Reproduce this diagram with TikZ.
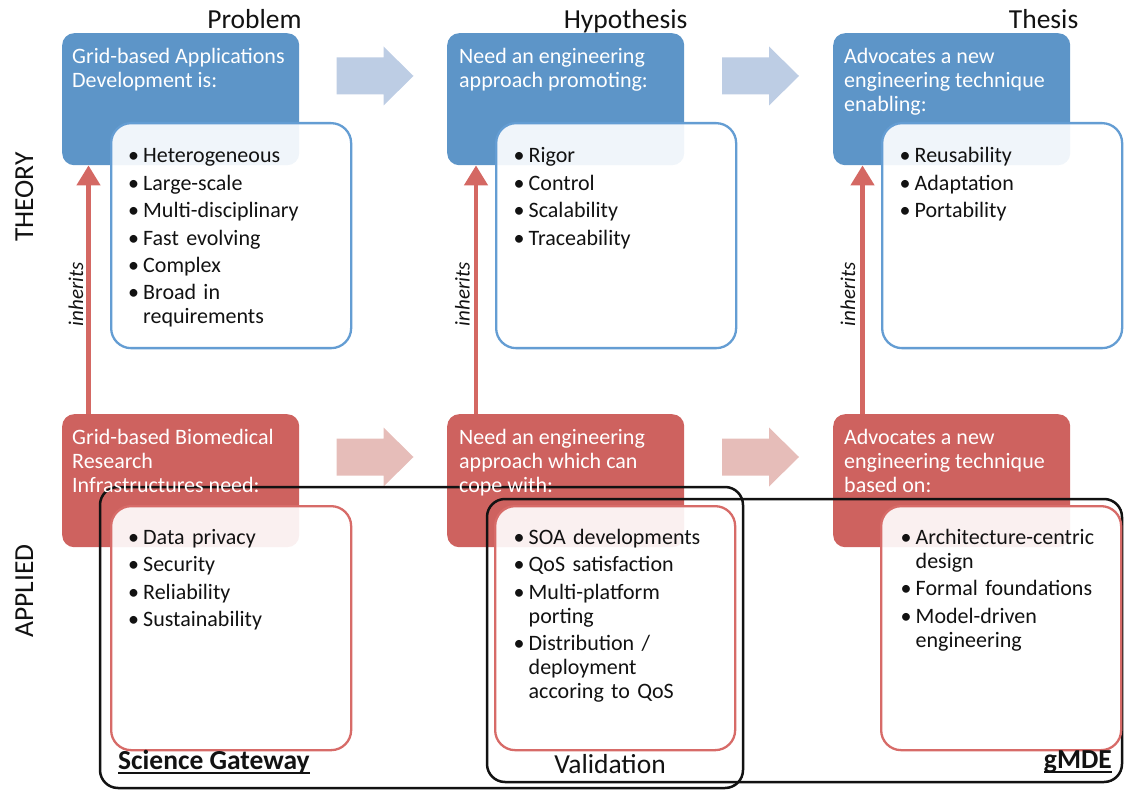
\documentclass[tikz,border=0pt]{standalone}
\usepackage{fontspec}
\setmainfont{Carlito}
\usetikzlibrary{arrows.meta}

\definecolor{boxblue}{RGB}{93,149,200}
\definecolor{boxred}{RGB}{206,98,95}
\definecolor{edgeblue}{RGB}{100,157,211}
\definecolor{edgered}{RGB}{215,107,104}
\definecolor{arrblue}{RGB}{189,205,228}
\definecolor{arrred}{RGB}{230,189,185}
\definecolor{inhred}{RGB}{212,104,99}
\definecolor{ink}{RGB}{18,18,18}

% one bullet entry with a hanging indent
\newcommand{\bitem}[1]{\hangindent=15pt\hangafter=1\noindent\makebox[15pt][l]{\strut•}#1\par}

% wide flat block arrow: #1 colour, #2 left end, #3 centre line
\newcommand{\flowarrow}[3]{%
  \fill[#1] (#2,#3-18.5) -- (#2+47,#3-18.5) -- (#2+47,#3-29.5) -- (#2+77,#3)
    -- (#2+47,#3+29.5) -- (#2+47,#3+18.5) -- (#2,#3+18.5) -- cycle;}

\tikzset{
  mainbox/.style={rounded corners=12pt, minimum width=237pt, minimum height=132pt,
    anchor=north west, inner sep=0, draw=none},
  listbox/.style={rounded corners=20pt, minimum width=240pt, anchor=north west,
    inner sep=0, line width=2.3pt, fill=white, fill opacity=0.91},
  headtxt/.style={anchor=north west, inner sep=0, text=white, align=left,
    font=\fontsize{22}{24}\selectfont},
  listtxt/.style={anchor=north west, inner sep=0, text=ink, text width=228pt,
    font=\fontsize{22}{24}\selectfont,
    execute at begin node={\raggedright\setlength{\parskip}{3.4pt}}},
  coltitle/.style={anchor=base, inner sep=0, text=ink, font=\fontsize{27.5}{30}\selectfont},
  rowtitle/.style={anchor=base, inner sep=0, rotate=90, text=ink,
    font=\fontsize{27.5}{30}\selectfont},
  inhlabel/.style={anchor=base, inner sep=0, rotate=90, text=ink,
    font=\fontsize{21}{24}\selectfont\itshape},
  inharrow/.style={draw=inhred, line width=4.5pt,
    -{Triangle[length=20pt,width=23pt]}},
  groupframe/.style={draw=ink, line width=2.5pt, rounded corners=18pt},
  grouplabel/.style={inner sep=0, text=ink, font=\fontsize{27.5}{30}\selectfont},
}

\begin{document}
\begin{tikzpicture}[x=1pt, y=-1pt]
\useasboundingbox (0,0) rectangle (1124,791);

% column titles
\node[coltitle] (tprob) at (254.5,29) {Problem};
\node[coltitle] (thyp)  at (625.6,29) {Hypothesis};
\node[coltitle] (tthes) at (1043.6,29) {Thesis};

% row titles
\node[rowtitle] (rtheory)  at (33,197) {THEORY};
\node[rowtitle] (rapplied) at (33,591) {APPLIED};

% coloured statement boxes
\node[mainbox, fill=boxblue] (b1) at (62,33) {};
\node[mainbox, fill=boxblue] (b2) at (447,33) {};
\node[mainbox, fill=boxblue] (b3) at (833,33) {};
\node[mainbox, fill=boxred, minimum height=133pt] (r1) at (62,414) {};
\node[mainbox, fill=boxred, minimum height=133pt] (r2) at (447,414) {};
\node[mainbox, fill=boxred, minimum height=133pt] (r3) at (833,414) {};

% flow between columns
\flowarrow{arrblue}{336.5}{76}
\flowarrow{arrblue}{722}{76}
\flowarrow{arrred}{336.5}{457}
\flowarrow{arrred}{722}{457}

% inheritance from applied to theory
\draw[inharrow] (r1.north -| 88.5,0) -- (b1.south -| 88.5,0);
\draw[inharrow] (r2.north -| 476,0) -- (b2.south -| 476,0);
\draw[inharrow] (r3.north -| 862.5,0) -- (b3.south -| 862.5,0);
\node[inhlabel] (i1) at (83,294.5) {inherits};
\node[inhlabel] (i2) at (469.5,294.5) {inherits};
\node[inhlabel] (i3) at (855,294.5) {inherits};

% grouping frames
\draw[groupframe] (100,487) rectangle (743,788);
\draw[groupframe] (487,499) rectangle (1122,782);

% bullet boxes
\node[listbox, draw=edgeblue, minimum height=225pt] (l1) at (110,122) {};
\node[listbox, draw=edgeblue, minimum height=225pt] (l2) at (495,122) {};
\node[listbox, draw=edgeblue, minimum height=225pt] (l3) at (881,122) {};
\node[listbox, draw=edgered, minimum height=244pt] (m1) at (110,505) {};
\node[listbox, draw=edgered, minimum height=244pt] (m2) at (494,505) {};
\node[listbox, draw=edgered, minimum height=244pt] (m3) at (880,505) {};

% statements
\node[headtxt] (h1) at (72,46.7) {\strut Grid-based Applications\\Development is:};
\node[headtxt] (h2) at (459,46.7) {\strut Need an engineering\\approach promoting:};
\node[headtxt] (h3) at (844,46.7) {\strut Advocates a new\\engineering technique\\enabling:};
\node[headtxt] (g1) at (72,427.2) {\strut Grid-based Biomedical\\Research\\Infrastructures need:};
\node[headtxt] (g2) at (459,427.2) {\strut Need an engineering\\approach which can\\cope with:};
\node[headtxt] (g3) at (844,427.2) {\strut Advocates a new\\engineering technique\\based on:};

% bullet lists
\node[listtxt] (p1) at (128,146) {\bitem{Heterogeneous}\bitem{Large-scale}%
  \bitem{Multi-disciplinary}\bitem{Fast evolving}\bitem{Complex}%
  \bitem{Broad in\newline requirements}};
\node[listtxt] (p2) at (513.5,146) {\bitem{Rigor}\bitem{Control}%
  \bitem{Scalability}\bitem{Traceability}};
\node[listtxt] (p3) at (899.5,146) {\bitem{Reusability}\bitem{Adaptation}%
  \bitem{Portability}};
\node[listtxt] (q1) at (128,527.5) {\bitem{Data privacy}\bitem{Security}%
  \bitem{Reliability}\bitem{Sustainability}};
\node[listtxt] (q2) at (513.5,527.5) {\bitem{SOA developments}\bitem{QoS satisfaction}%
  \bitem{Multi-platform\newline porting}%
  \bitem{Distribution /\newline deployment\newline accoring to QoS}};
\node[listtxt] (q3) at (900.5,527.5) {\bitem{Architecture-centric\newline design}%
  \bitem{Formal foundations}\bitem{Model-driven\newline engineering}};

% frame labels
\node[grouplabel, anchor=base west, font=\fontsize{27.5}{30}\selectfont\bfseries] (sg) at (118,769) {Science Gateway};
\draw[ink, line width=1.6pt] ([yshift=-4pt]sg.base west) -- ([yshift=-4pt]sg.base east);
\node[grouplabel, anchor=base] (val) at (610,773) {Validation};
\node[grouplabel, anchor=base east, font=\fontsize{27.5}{30}\selectfont\bfseries] (gm) at (1112,768) {gMDE};
\draw[ink, line width=1.6pt] ([yshift=-4pt]gm.base west) -- ([yshift=-4pt]gm.base east);
\end{tikzpicture}
\end{document}
